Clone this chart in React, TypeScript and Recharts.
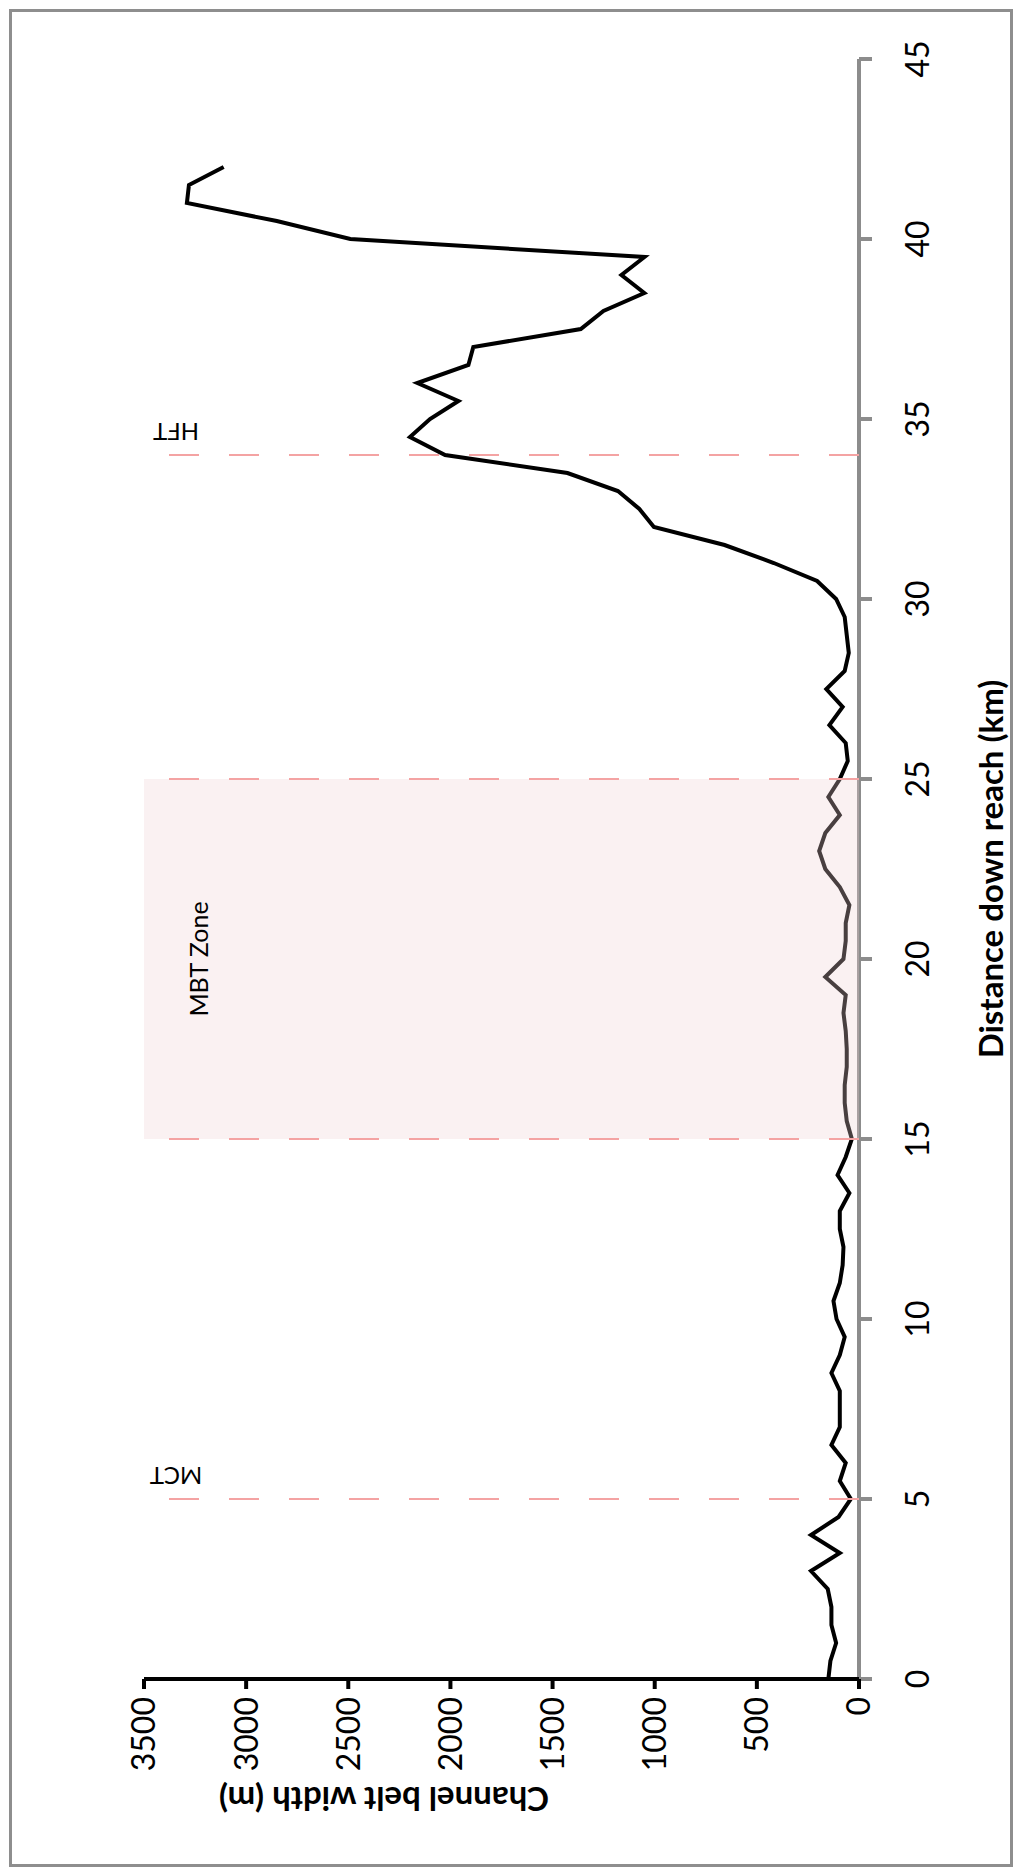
import React from 'react';
import { LineChart, Line, XAxis, YAxis, ReferenceLine, ReferenceArea } from 'recharts';

// distance down reach (km) and channel belt width (m)
const distanceKm = [
  0, 0.5, 1, 1.5, 2, 2.5, 3, 3.5, 4, 4.5, 5, 5.5, 6, 6.5, 7, 7.5, 8, 8.5, 9, 9.5,
  10, 10.5, 11, 11.5, 12, 12.5, 13, 13.5, 14, 14.5, 15, 15.5, 16, 16.5, 17, 17.5, 18, 18.5, 19, 19.5,
  20, 20.5, 21, 21.5, 22, 22.5, 23, 23.5, 24, 24.5, 25, 25.5, 26, 26.5, 27, 27.5, 28, 28.5, 29, 29.5,
  30, 30.5, 31, 31.5, 32, 32.5, 33, 33.5, 34, 34.5, 35, 35.5, 36, 36.5, 37, 37.5, 38, 38.5, 39, 39.5,
  40, 40.5, 41, 41.5, 42,
];
const beltWidthM = [
  150, 140, 112, 135, 135, 153, 235, 94, 235, 100, 40, 94, 65, 135, 94, 94, 94, 135, 94, 70,
  110, 125, 94, 80, 76, 94, 94, 47, 105, 65, 35, 60, 70, 70, 60, 60, 65, 76, 65, 165,
  76, 65, 65, 47, 94, 165, 195, 165, 94, 150, 94, 55, 65, 145, 80, 160, 70, 50, 60, 70,
  112, 205, 417, 658, 1004, 1075, 1180, 1427, 2026, 2198, 2100, 1961, 2162, 1912, 1888, 1362, 1251, 1051, 1163, 1050,
  2490, 2850, 3290, 3280, 3110,
];

const distanceTicks = [0, 5, 10, 15, 20, 25, 30, 35, 40, 45];
const widthTicks = [0, 500, 1000, 1500, 2000, 2500, 3000, 3500];

const faultAt = [5, 15, 25, 34];
const faultNames = ['MCT', '', '', 'HFT'];
const mbtZone = [15, 25];

const rows = distanceKm.map((d, i) => ({ d, w: beltWidthM[i] }));

const FONT = 'Lato, "Open Sans", sans-serif';
const W = 1876;
const H = 1022;

const FaultTag = (props: any) => {
  const { viewBox, text } = props;
  if (!viewBox || !text) return null;
  const x = viewBox.x + 32;
  const y = Math.min(viewBox.y, viewBox.y + (viewBox.height || 0)) + 32;
  return (
    <text x={x} y={y} transform={`rotate(-90 ${x} ${y})`} textAnchor="middle"
      fontFamily={FONT} fontSize={24} fill="#000">{text}</text>
  );
};

const ZoneTag = (props: any) => {
  const { viewBox } = props;
  if (!viewBox) return null;
  const x = viewBox.x + viewBox.width / 2;
  const y = viewBox.y + 54;
  return (
    <text x={x} y={y} textAnchor="middle" dominantBaseline="central"
      fontFamily={FONT} fontSize={25} fill="#000">MBT Zone</text>
  );
};

const WidthTitle = () => (
  <text x={76} y={384} transform="rotate(-90 76 384)" textAnchor="middle" dominantBaseline="central"
    fontFamily={FONT} fontWeight={700} fontSize={33} fill="#000">Channel belt width (m)</text>
);

const DistanceTitle = () => (
  <text x={1007} y={990} textAnchor="middle" dominantBaseline="central"
    fontFamily={FONT} fontWeight={700} fontSize={33} fill="#000">Distance down reach (km)</text>
);

export default function App() {
  return (
    <div style={{ position: 'absolute', left: 0, top: 0, width: 1022, height: 1876, background: '#fff', overflow: 'hidden' }}>
      <div style={{ position: 'absolute', left: 9, top: 9, width: 1004, height: 1858, border: '3px solid #8e8e8e', boxSizing: 'border-box' }} />
      {/* the figure is an Excel chart turned on its side */}
      <div style={{ position: 'absolute', left: 0, top: 0, width: W, height: H, transformOrigin: '0 0', transform: `translate(0px, ${W}px) rotate(-90deg)` }}>
        <LineChart width={W} height={H} data={rows} margin={{ top: 144, right: 59, left: 47, bottom: 43 }}>
          <XAxis
            dataKey="d"
            type="number"
            domain={[0, 45]}
            ticks={distanceTicks}
            height={120}
            tickSize={13}
            tickMargin={34}
            axisLine={{ stroke: '#8c8c8c', strokeWidth: 4 }}
            tickLine={{ stroke: '#8c8c8c', strokeWidth: 4 }}
            tick={{ fontSize: 32, fill: '#000', fontFamily: FONT }}
            label={{ content: () => <DistanceTitle /> }}
          />
          <YAxis
            type="number"
            domain={[0, 3500]}
            ticks={widthTicks}
            width={150}
            tickSize={10}
            tickMargin={8}
            axisLine={{ stroke: '#000', strokeWidth: 4 }}
            tickLine={{ stroke: '#000', strokeWidth: 4 }}
            tick={{ fontSize: 32, fill: '#000', fontFamily: FONT }}
            label={{ content: () => <WidthTitle /> }}
          />
          <Line
            type="linear"
            dataKey="w"
            stroke="#000"
            strokeWidth={4}
            dot={false}
            activeDot={false}
            isAnimationActive={false}
          />
          <ReferenceArea
            x1={mbtZone[0]}
            x2={mbtZone[1]}
            y1={0}
            y2={3500}
            fill="#f0d0d5"
            fillOpacity={0.3}
            stroke="none"
            zIndex={500}
            label={<ZoneTag />}
          />
          {faultAt.map((x, i) => (
            <ReferenceLine
              key={x}
              x={x}
              stroke="#f4a3a3"
              strokeWidth={2}
              strokeDasharray="30 30"
              zIndex={600}
              label={<FaultTag text={faultNames[i]} />}
            />
          ))}
        </LineChart>
      </div>
    </div>
  );
}
